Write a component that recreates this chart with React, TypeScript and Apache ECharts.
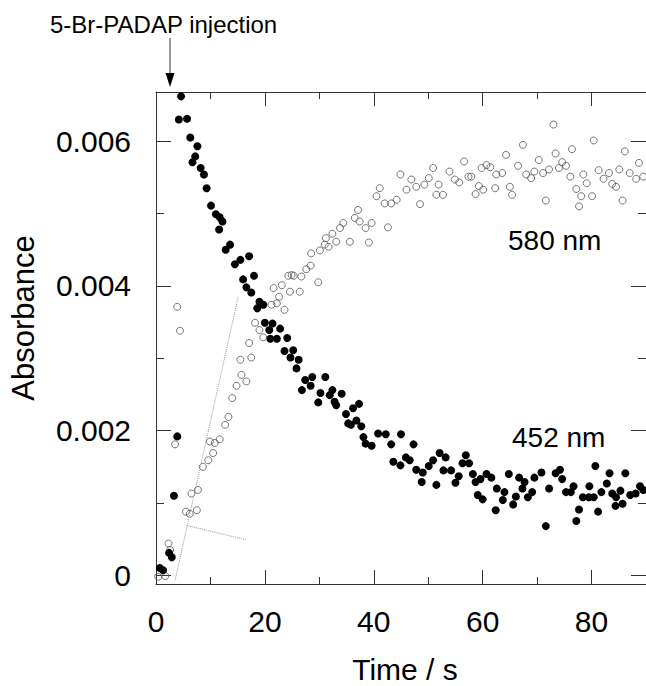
import React, { useEffect, useRef } from "react";
import * as echarts from "echarts";

// 452 nm (filled circles): time (s) and absorbance
const t452 = [
  -0.2, 0.7, 1.3, 2.4, 2.9, 3.3, 3.9, 4.2, 4.6, 5.7, 6.3, 6.7, 7.2, 7.6, 8.2, 8.8, 9.3, 10.1, 11.0, 11.6,
  11.7, 12.2, 12.8, 13.6, 14.5, 15.5, 16.0, 16.6, 17.1, 17.5, 18.0, 18.6, 19.0, 19.7, 20.0, 20.8, 21.0, 21.4,
  22.2, 22.8, 23.6, 24.1, 24.7, 25.2, 25.8, 26.2, 26.8, 27.4, 28.4, 28.7, 29.8, 30.2, 31.1, 31.9, 32.4, 32.8,
  33.1, 34.1, 34.9, 35.3, 35.8, 36.2, 36.8, 37.3, 37.7, 38.1, 38.5, 39.6, 40.8, 42.2, 43.2, 43.6, 45.0, 44.9,
  45.9, 46.6, 47.3, 47.8, 48.8, 49.0, 50.1, 50.9, 51.5, 52.1, 52.8, 53.2, 54.2, 55.0, 55.6, 56.3, 56.9, 57.5,
  58.2, 58.7, 59.1, 59.6, 60.0, 60.7, 61.6, 62.4, 62.6, 63.7, 64.0, 64.8, 65.6, 66.1, 66.7, 67.3, 67.7, 68.3,
  69.1, 69.5, 70.8, 71.6, 72.2, 73.4, 74.2, 74.6, 75.3, 76.2, 76.7, 77.2, 77.7, 78.4, 79.5, 79.6, 80.4, 80.7,
  81.2, 81.8, 82.8, 83.3, 83.8, 84.4, 84.5, 85.3, 85.7, 86.2, 87.1, 88.1, 88.9, 89.5,
];
const a452 = [
  -0.00011, 0.0001, 0.00007, 0.00031, 0.00025, 0.0011, 0.00192, 0.0063, 0.00662, 0.00631, 0.00605, 0.00571,
  0.00579, 0.00593, 0.00563, 0.00554, 0.00535, 0.00511, 0.00499, 0.00478, 0.00495, 0.00489, 0.0045, 0.00457,
  0.0043, 0.00436, 0.00409, 0.00398, 0.00441, 0.00391, 0.00414, 0.00369, 0.00378, 0.00374, 0.00349, 0.00339,
  0.00327, 0.00348, 0.00327, 0.00341, 0.0031, 0.00328, 0.00301, 0.00311, 0.00286, 0.00298, 0.00256, 0.0027,
  0.00262, 0.00274, 0.00239, 0.00252, 0.00274, 0.00249, 0.00256, 0.0024, 0.00235, 0.00251, 0.00223, 0.0021,
  0.00208, 0.00231, 0.00214, 0.00237, 0.00206, 0.00191, 0.00182, 0.00179, 0.00196, 0.00195, 0.00181, 0.00157,
  0.00195, 0.00152, 0.00163, 0.00159, 0.00181, 0.00146, 0.00129, 0.00142, 0.00151, 0.00159, 0.00125, 0.00169,
  0.00145, 0.00163, 0.00145, 0.00128, 0.00137, 0.00155, 0.00166, 0.00155, 0.0014, 0.00129, 0.00111, 0.00133,
  0.00105, 0.0014, 0.00135, 0.0009, 0.0012, 0.00104, 0.00115, 0.0014, 0.00098, 0.00109, 0.00135, 0.0012,
  0.00129, 0.00108, 0.00115, 0.00135, 0.00142, 0.00068, 0.0012, 0.00141, 0.00146, 0.00133, 0.00115, 0.00115,
  0.00123, 0.00075, 0.00091, 0.00108, 0.00108, 0.00123, 0.00108, 0.00151, 0.00088, 0.00115, 0.00127, 0.00141,
  0.00113, 0.00096, 0.00108, 0.00117, 0.00099, 0.00141, 0.00111, 0.00113, 0.00123, 0.00118,
];

// 580 nm (open circles): time (s) and absorbance
const t580 = [
  0.4, 1.7, 2.3, 2.6, 3.5, 3.9, 4.4, 5.5, 6.2, 6.5, 7.5, 7.7, 8.6, 9.6, 9.9, 10.5, 10.8, 11.7, 12.7, 13.3,
  14.0, 14.8, 15.5, 15.7, 16.6, 17.1, 17.5, 18.2, 19.0, 19.7, 21.2, 21.6, 22.2, 22.6, 23.1, 23.6, 24.3, 24.6,
  24.9, 25.3, 26.4, 26.7, 27.6, 28.4, 28.5, 29.8, 30.1, 31.0, 31.2, 31.7, 32.4, 33.1, 33.8, 34.4, 35.6, 36.5,
  37.1, 37.4, 38.5, 39.1, 39.6, 40.5, 41.1, 42.0, 42.6, 43.2, 44.2, 44.9, 46.0, 46.9, 47.8, 48.5, 49.3, 50.1,
  50.9, 51.5, 51.9, 52.7, 53.9, 54.9, 55.7, 56.6, 57.4, 57.9, 58.7, 59.3, 59.8, 60.1, 60.7, 61.4, 62.3, 62.5,
  63.6, 64.3, 65.0, 65.4, 66.5, 67.4, 68.0, 68.9, 69.5, 70.3, 71.1, 71.6, 72.2, 73.0, 73.4, 74.0, 74.6, 75.3,
  76.1, 76.4, 77.2, 77.7, 78.1, 78.5, 79.1, 80.1, 80.4, 81.3, 82.2, 83.2, 83.8, 84.5, 85.1, 85.7, 86.1, 87.0,
  88.2, 88.7, 89.5,
];
const a580 = [
  -0.00002, -0.00001, 0.00044, 0.00035, 0.00181, 0.00371, 0.00338, 0.00088, 0.00085, 0.00113, 0.0009, 0.00118,
  0.0015, 0.00159, 0.00185, 0.00169, 0.00183, 0.00188, 0.00208, 0.00219, 0.00245, 0.00262, 0.00298, 0.00277,
  0.00268, 0.00321, 0.00301, 0.00349, 0.00339, 0.00329, 0.00374, 0.00397, 0.00376, 0.00385, 0.00401, 0.00367,
  0.00414, 0.00392, 0.00415, 0.00414, 0.00392, 0.00413, 0.00423, 0.00428, 0.00445, 0.00405, 0.00449, 0.00457,
  0.00466, 0.00454, 0.00472, 0.00461, 0.0048, 0.00487, 0.00461, 0.00494, 0.00505, 0.00489, 0.0048, 0.0046,
  0.00487, 0.00524, 0.00535, 0.00514, 0.00481, 0.00514, 0.00519, 0.00554, 0.00533, 0.00547, 0.00537, 0.00513,
  0.0054, 0.00549, 0.00563, 0.00526, 0.0054, 0.00526, 0.00558, 0.00547, 0.00543, 0.00572, 0.00551, 0.00551,
  0.00527, 0.00538, 0.00563, 0.00533, 0.00567, 0.00564, 0.00535, 0.00554, 0.00556, 0.00581, 0.00537, 0.00526,
  0.00566, 0.00595, 0.00554, 0.00549, 0.00558, 0.00574, 0.00556, 0.00518, 0.00561, 0.00623, 0.00583, 0.00563,
  0.00571, 0.00566, 0.00551, 0.00589, 0.00534, 0.0051, 0.00524, 0.00554, 0.00542, 0.00524, 0.00601, 0.0056,
  0.00548, 0.00556, 0.00541, 0.00537, 0.00561, 0.00518, 0.00586, 0.00556, 0.00548, 0.0057, 0.00551,
];

// faint dotted guide lines seen on the figure
const guideA = [[3.5, -0.00007], [15.1, 0.00385]];
const guideB = [[5.6, 0.00069], [16.6, 0.00049]];

// axes
const xLabels = [0, 20, 40, 60, 80];
const yMajor = [0, 0.002, 0.004, 0.006];
const yMinor = [0.001, 0.003, 0.005];
const X_MIN = 0;
const X_MAX = 90;
const Y_MIN = -0.00012;
const Y_MAX = 0.00668;

const FONT = "'Liberation Sans', Arial, Helvetica, sans-serif";

export default function App() {
  const ref = useRef<HTMLDivElement>(null);

  useEffect(() => {
    if (!ref.current) return;
    const chart = echarts.init(ref.current, null, { renderer: "svg" });
    const axisColor = "#333";

    const xCommon = {
      type: "value" as const,
      min: X_MIN,
      max: X_MAX,
      interval: 20,
      splitLine: { show: false },
      axisLine: { show: true, onZero: false, lineStyle: { color: axisColor, width: 1 } },
      axisTick: { show: true, inside: true, length: 14, lineStyle: { color: axisColor } },
      minorTick: { show: true, splitNumber: 2, length: 7, lineStyle: { color: axisColor } },
    };

    const yBase = (position: "left" | "right", values: number[], len: number, showLine: boolean, showLabel: boolean) => ({
      type: "value" as const,
      position,
      min: Y_MIN,
      max: Y_MAX,
      splitLine: { show: false },
      axisLine: { show: showLine, onZero: false, lineStyle: { color: axisColor, width: 1 } },
      axisTick: { show: true, inside: true, length: len, customValues: values, lineStyle: { color: axisColor } },
      axisLabel: showLabel
        ? { show: true, customValues: values, fontSize: 30, color: "#000", fontFamily: FONT, margin: 25 }
        : { show: false },
    });

    chart.setOption({
      animation: false,
      backgroundColor: "#fff",
      grid: {
        left: 156,
        top: 92,
        width: 490,
        height: 492,
        containLabel: false,
        outerBoundsMode: "none",
      },
      xAxis: [
        {
          ...xCommon,
          position: "bottom",
          axisLabel: {
            show: true,
            customValues: xLabels,
            fontSize: 30,
            color: "#000",
            fontFamily: FONT,
            margin: 22,
          },
        },
        { ...xCommon, position: "top", axisLabel: { show: false } },
      ],
      yAxis: [
        yBase("left", yMajor, 15, true, true),
        yBase("left", yMinor, 8, false, false),
        yBase("right", yMajor, 15, true, false),
        yBase("right", yMinor, 8, false, false),
      ],
      series: [
        {
          type: "line",
          data: guideA,
          symbol: "none",
          silent: true,
          lineStyle: { color: "#9a9a9a", width: 1, type: "dotted" },
        },
        {
          type: "line",
          data: guideB,
          symbol: "none",
          silent: true,
          lineStyle: { color: "#9a9a9a", width: 1, type: "dotted" },
        },
        {
          name: "580 nm",
          type: "scatter",
          data: t580.map((t, i) => [t, a580[i]]),
          symbol: "circle",
          symbolSize: 7,
          silent: true,
          itemStyle: { color: "rgba(255,255,255,0)", borderColor: "#555", borderWidth: 1 },
        },
        {
          name: "452 nm",
          type: "scatter",
          data: t452.map((t, i) => [t, a452[i]]),
          symbol: "circle",
          symbolSize: 8,
          silent: true,
          itemStyle: { color: "#000", opacity: 1 },
        },
      ],
      graphic: [
        {
          type: "text",
          left: 50,
          top: 12,
          style: { text: "5-Br-PADAP injection", fontSize: 24, fontFamily: FONT, fill: "#000" },
        },
        {
          type: "line",
          shape: { x1: 170, y1: 38, x2: 170, y2: 76 },
          style: { stroke: "#333", lineWidth: 1 },
        },
        {
          type: "polygon",
          shape: { points: [[165.5, 73], [174.5, 73], [170, 87]] },
          style: { fill: "#000" },
        },
        {
          type: "text",
          x: 23,
          y: 318,
          rotation: Math.PI / 2,
          style: {
            text: "Absorbance",
            fontSize: 31,
            fontFamily: FONT,
            fill: "#000",
            align: "center",
            verticalAlign: "middle",
          },
        },
        {
          type: "text",
          x: 405,
          y: 669,
          style: {
            text: "Time / s",
            fontSize: 30,
            fontFamily: FONT,
            fill: "#000",
            align: "center",
            verticalAlign: "middle",
          },
        },
        {
          type: "text",
          x: 508,
          y: 240,
          style: { text: "580 nm", fontSize: 28, fontFamily: FONT, fill: "#000", verticalAlign: "middle" },
        },
        {
          type: "text",
          x: 512,
          y: 437,
          style: { text: "452 nm", fontSize: 28, fontFamily: FONT, fill: "#000", verticalAlign: "middle" },
        },
      ],
    });

    return () => chart.dispose();
  }, []);

  return (
    <div
      ref={ref}
      style={{ position: "fixed", left: 0, top: 0, width: 646, height: 686, background: "#fff" }}
    />
  );
}
